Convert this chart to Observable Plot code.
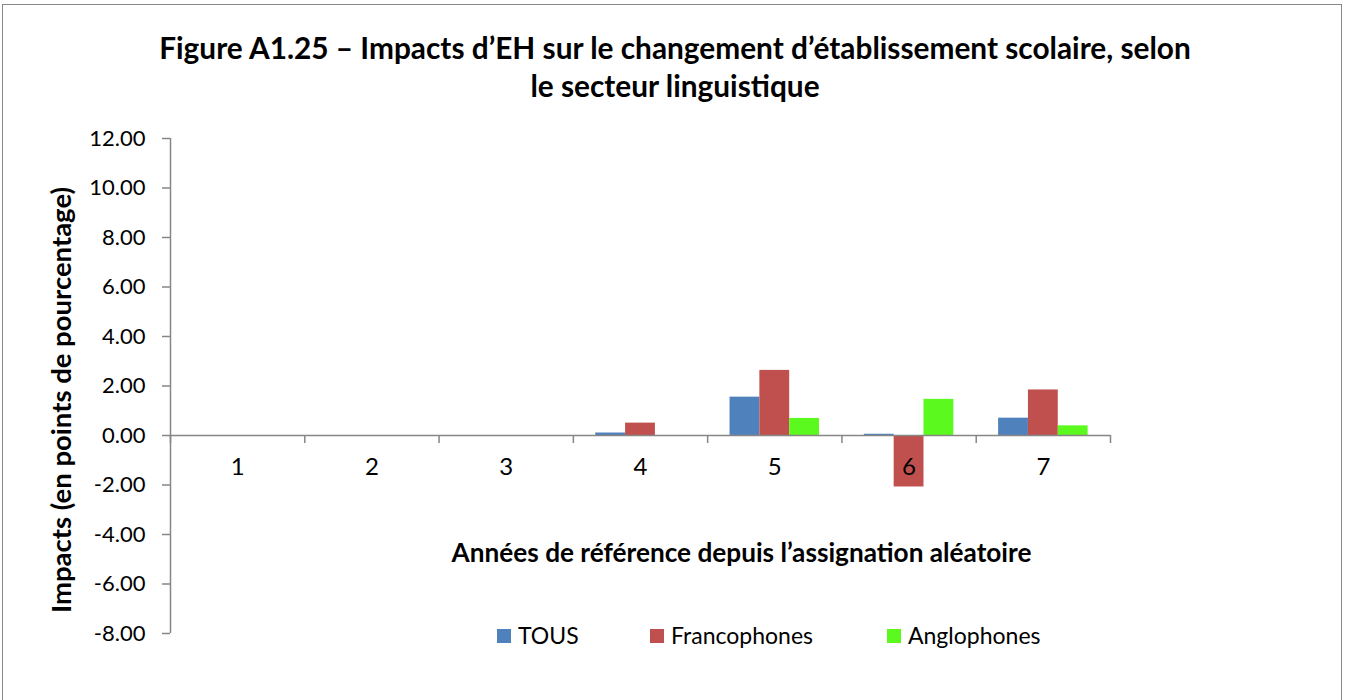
<!DOCTYPE html>
<html>
<head>
<meta charset="utf-8">
<script src="https://cdn.jsdelivr.net/npm/d3@7"></script>
<script src="https://cdn.jsdelivr.net/npm/@observablehq/plot@0.6"></script>
<style>
  body { margin: 0; background: #fff; font-family: Lato, sans-serif; }
  #page { position: relative; width: 1346px; height: 700px; overflow: hidden; }
  #border { position: absolute; left: 2px; top: 4px; width: 1338px; height: 710px; border: 1px solid #898989; }
  #title { position: absolute; left: 2px; width: 1346px; top: 29px; text-align: center; font-weight: bold; font-size: 29.8px; line-height: 38px; color: #000; white-space: nowrap; }
  #chart { position: absolute; left: 0; top: 106px; }
  .sw { position: absolute; width: 14px; height: 14px; top: 629px; }
  .lt { position: absolute; top: 622px; height: 26px; line-height: 26px; font-size: 23px; color: #000; white-space: nowrap; }
</style>
</head>
<body>
<div id="page">
  <div id="border"></div>
  <div id="title">Figure A1.25 – Impacts d’EH sur le changement d’établissement scolaire, selon<br>le secteur linguistique</div>
  <div id="chart"></div>
  <div id="legend"></div>
</div>
<script>
// ---- data ----
const years = [1, 2, 3, 4, 5, 6, 7];
const seriesNames = ["TOUS", "Francophones", "Anglophones"];
const seriesColors = ["#4F81BD", "#C0504D", "#5CF91E"];
const tous = [0, 0, 0, 0.10, 1.55, 0.05, 0.70];
const francophones = [0, 0, 0, 0.50, 2.63, -2.08, 1.84];
const anglophones = [0, 0, 0, 0, 0.69, 1.46, 0.39];
const yTicks = [-8, -6, -4, -2, 0, 2, 4, 6, 8, 10, 12];
const xTitle = "Années de référence depuis l’assignation aléatoire";
const yTitle = "Impacts (en points de pourcentage)";

// ---- layout ----
const W = 1346, H = 594;
const mL = 170, mR = 236, mT = 32, mB = 67;
const band = (W - mL - mR) / years.length;
const gap = 22.4;
const bw = (band - 2 * gap) / seriesNames.length;
const axisGray = "#868686";

const seriesValues = [tous, francophones, anglophones];
const tables = seriesValues.map((vals, s) =>
  years.map((yr, i) => ({year: yr, value: vals[i], series: seriesNames[s]}))
);
const xDomain = [years[0] - 0.5, years[years.length - 1] + 0.5];
const boundaries = years.map(y => y - 0.5).concat([xDomain[1]]);

const barMarks = tables.map((t, s) =>
  Plot.rectY(t, {
    x1: d => d.year - 0.5,
    x2: d => d.year + 0.5,
    y1: 0,
    y2: d => d.value,
    fill: seriesColors[s],
    insetLeft: gap + s * bw,
    insetRight: gap + (seriesNames.length - 1 - s) * bw
  })
);

const chart = Plot.plot({
  width: W,
  height: H,
  marginLeft: mL,
  marginRight: mR,
  marginTop: mT,
  marginBottom: mB,
  style: {fontFamily: "Lato, sans-serif", background: "transparent", color: "#000"},
  x: {type: "linear", domain: xDomain},
  y: {domain: [yTicks[0], yTicks[yTicks.length - 1]]},
  marks: [
    ...barMarks,
    Plot.ruleY([0], {stroke: axisGray, strokeWidth: 1.5}),
    Plot.ruleX(boundaries, {x: d => d, y1: 0, y2: 0, insetBottom: -8, stroke: axisGray, strokeWidth: 1.5}),
    Plot.ruleX([xDomain[0]], {stroke: axisGray, strokeWidth: 1.5}),
    Plot.axisY({ticks: yTicks, tickFormat: d => d.toFixed(2), tickSize: 8, tickPadding: 17, stroke: axisGray, strokeWidth: 1.5, fontSize: 22, label: null}),
    Plot.axisX({ticks: years, tickFormat: d => String(d), tickSize: 0, fontSize: 24, dy: -185, label: null}),
    Plot.text([yTitle], {frameAnchor: "left", textAnchor: "middle", rotate: -90, dx: -108, dy: 14, fontSize: 27.5, fontWeight: "bold", lineAnchor: "middle", fill: "#000"}),
    Plot.text([xTitle], {frameAnchor: "bottom", textAnchor: "middle", dx: 101, dy: -80, fontSize: 26.2, fontWeight: "bold", lineAnchor: "middle", fill: "#000"})
  ]
});
document.getElementById("chart").appendChild(chart);

// ---- legend ----
const legendX = [497, 650, 887];
const legend = document.getElementById("legend");
seriesNames.forEach((name, i) => {
  const sw = document.createElement("div");
  sw.className = "sw";
  sw.style.left = legendX[i] + "px";
  sw.style.background = seriesColors[i];
  legend.appendChild(sw);
  const lt = document.createElement("div");
  lt.className = "lt";
  lt.style.left = (legendX[i] + 21) + "px";
  lt.textContent = name;
  legend.appendChild(lt);
});
</script>
</body>
</html>
